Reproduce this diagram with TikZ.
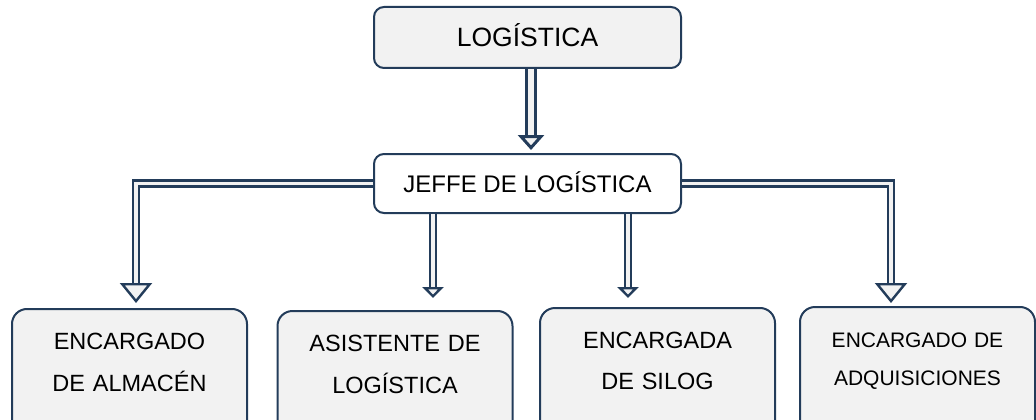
\documentclass[tikz,border=0pt]{standalone}
\usepackage{fontspec}
\setmainfont{Liberation Sans}
\usetikzlibrary{arrows.meta}
\definecolor{edgeblue}{HTML}{233C5A}
\definecolor{boxgray}{HTML}{F2F2F2}
\tikzset{
  topbox/.style={draw=edgeblue, line width=2pt, rounded corners=10pt, fill=boxgray,
    minimum width=307pt, minimum height=61pt, text height=19pt, text depth=0pt,
    font=\fontsize{26.5}{30}\selectfont},
  bossbox/.style={topbox, fill=white, minimum height=59pt, text height=17.2pt,
    font=\fontsize{24}{28}\selectfont},
  staffbox/.style={draw=edgeblue, line width=2pt, rounded corners=15pt, fill=boxgray,
    anchor=north, text width=215pt, inner xsep=10pt, inner ysep=20pt, align=center},
  dline/.style={draw=edgeblue, line width=2.4pt, double=boxgray, double distance=3.5pt},
  bighead/.style={-{Triangle[length=20pt, width=32pt, line width=2.4pt, fill=boxgray]}},
  smallhead/.style={-{Triangle[length=11pt, width=21pt, line width=2.4pt, fill=boxgray]}}
}
\newcommand{\firstline}{\rule{0pt}{20pt}}
\newcommand{\lastline}{\rule[-45pt]{0pt}{45pt}}
\begin{document}
\begin{tikzpicture}[x=1pt, y=-1pt]
\useasboundingbox (0,0) rectangle (1036,420);
\node[topbox] (logistica) at (527.5,37.5) {LOGÍSTICA};
\node[bossbox] (jefe) at (527.5,183.5) {JEFFE DE LOGÍSTICA};

\node[staffbox, font=\fontsize{23.5}{42}\selectfont] (almacen) at (129.5,308) {\firstline ENCARGADO\\DE ALMACÉN\lastline};
\node[staffbox, font=\fontsize{23.5}{42}\selectfont] (asistente) at (395,310) {\firstline ASISTENTE DE\\LOGÍSTICA\lastline};
\node[staffbox, font=\fontsize{23.5}{41}\selectfont] (silog) at (657.5,307) {\firstline ENCARGADA\\DE SILOG\lastline};
\node[staffbox, font=\fontsize{21}{38}\selectfont] (adquisiciones) at (917.5,306) {\firstline ENCARGADO DE\\ADQUISICIONES\lastline};

%arrow ends
\coordinate (t0) at (531,150);
\coordinate (t1) at (136,303);
\coordinate (t2) at (433,298);
\coordinate (t3) at (628,298);
\coordinate (t4) at (891,303);

\draw[dline, line width=3pt, double distance=5.5pt,
  -{Triangle[length=15pt, width=26pt, line width=3pt, fill=boxgray]}] (logistica.south -| t0) -- (t0);
\draw[dline, bighead] (jefe.west) -| (t1);
\draw[dline, bighead] (jefe.east) -| (t4);
\draw[dline, smallhead] (jefe.south -| t2) -- (t2);
\draw[dline, smallhead] (jefe.south -| t3) -- (t3);
\end{tikzpicture}
\end{document}
